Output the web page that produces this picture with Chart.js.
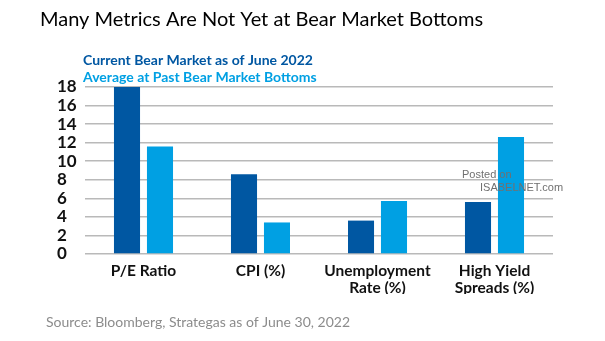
<!DOCTYPE html>
<html>
<head>
<meta charset="utf-8">
<script src="https://cdn.jsdelivr.net/npm/chart.js@4"></script>
<style>
  html, body { margin: 0; padding: 0; background: #fff; }
  #wrap { width: 605px; height: 341px; position: relative; }
</style>
</head>
<body>
<div id="wrap"><canvas id="chart"></canvas></div>
<script>
// 資料
const categories = [['P/E Ratio'], ['CPI (%)'], ['Unemployment', 'Rate (%)'], ['High Yield', 'Spreads (%)']];
const currentBear = [18, 8.6, 3.6, 5.6];
const pastBottoms = [11.6, 3.4, 5.7, 12.6];
const seriesNames = ['Current Bear Market as of June 2022', 'Average at Past Bear Market Bottoms'];
const yMin = 0, yMax = 18, yStep = 2;

const titleText = 'Many Metrics Are Not Yet at Bear Market Bottoms';
const sourceText = 'Source: Bloomberg, Strategas as of June 30, 2022';

const DARK = '#0057a2';
const LIGHT = '#00a0e3';
const FONT = 'Lato, "Open Sans", sans-serif';

// 標題、圖例、來源文字
const textPlugin = {
  id: 'textBlocks',
  afterDraw(chart) {
    const ctx = chart.ctx;
    ctx.save();
    ctx.textBaseline = 'alphabetic';
    ctx.textAlign = 'left';

    ctx.fillStyle = '#000';
    ctx.font = '20px ' + FONT;
    ctx.fillText(titleText, 40, 26);

    // 圖例 (文字色即系列色)
    ctx.font = 'bold 14px ' + FONT;
    chart.data.datasets.forEach((ds, i) => {
      ctx.fillStyle = ds.backgroundColor;
      ctx.fillText(ds.label, 83, 64.5 + i * 17.5);
    });

    ctx.fillStyle = '#8c8c8c';
    ctx.font = '14px ' + FONT;
    ctx.fillText(sourceText, 46, 327);

    // 浮水印
    ctx.fillStyle = '#707070';
    ctx.font = '11px "Liberation Sans", Arial, sans-serif';
    ctx.fillText('Posted on', 462, 178);
    ctx.fillText('ISABELNET.com', 480, 191);
    ctx.restore();
  }
};

new Chart(document.getElementById('chart'), {
  type: 'bar',
  data: {
    labels: categories,
    datasets: [
      {
        label: seriesNames[0],
        data: currentBear,
        backgroundColor: DARK,
        categoryPercentage: 0.564,
        barPercentage: 0.79
      },
      {
        label: seriesNames[1],
        data: pastBottoms,
        backgroundColor: LIGHT,
        categoryPercentage: 0.564,
        barPercentage: 0.79
      }
    ]
  },
  options: {
    responsive: true,
    maintainAspectRatio: false,
    animation: false,
    layout: { padding: { left: 57, right: 52, top: 87, bottom: 47 } },
    plugins: {
      legend: { display: false },
      tooltip: { enabled: false }
    },
    scales: {
      x: {
        grid: { display: false, drawTicks: false },
        border: { display: false },
        ticks: {
          color: '#111',
          font: { family: FONT, size: 15.5, weight: 'bold', lineHeight: 1.1 },
          padding: 8,
          maxRotation: 0
        },
        afterFit: s => { s.height = 40; }
      },
      y: {
        min: yMin,
        max: yMax,
        ticks: {
          stepSize: yStep,
          autoSkip: false,
          color: '#111',
          crossAlign: 'far',
          font: { family: FONT, size: 17, weight: 'bold' }
        },
        grid: { color: '#b9b9b9', lineWidth: 1.5, drawTicks: false },
        border: { display: false },
        afterFit: s => { s.width = 28; }
      }
    }
  },
  plugins: [textPlugin]
});
</script>
</body>
</html>
